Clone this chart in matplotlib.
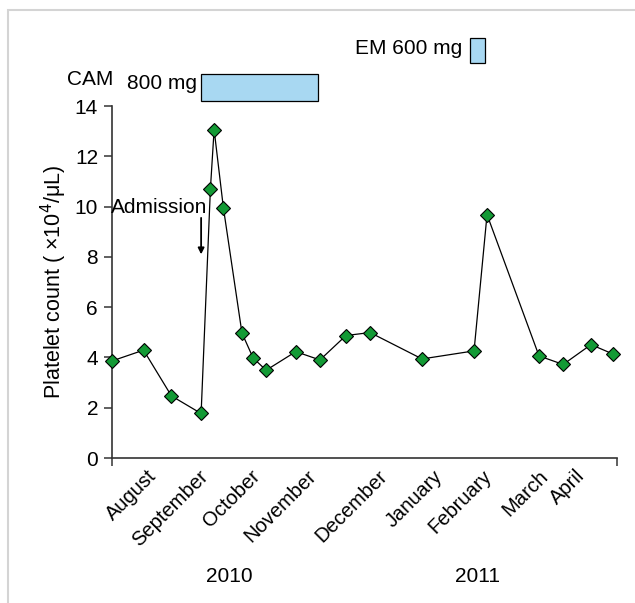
import matplotlib.pyplot as plt
from matplotlib.patches import Rectangle

plt.rcParams['font.family'] = ['Liberation Sans', 'DejaVu Sans']

# days counted from the first measurement (early August 2010)
days = [0, 17, 32, 48, 53, 55, 60, 70, 76, 83, 99, 112, 126, 139,
        167, 195, 202, 230, 243, 258, 270]
platelets = [3.86, 4.29, 2.47, 1.77, 10.7, 13.06, 9.95, 4.97, 3.98, 3.49,
             4.23, 3.9, 4.87, 4.99, 3.94, 4.26, 9.68, 4.06, 3.72, 4.51, 4.13]

months = ['August', 'September', 'October', 'November', 'December',
          'January', 'February', 'March', 'April']
month_pos = [19, 46.5, 74.5, 105, 143, 173, 199.5, 229.5, 249.5]

years = ['2010', '2011']
year_pos = [63, 197]

# drug courses: start day, end day
cam_course = (48, 111)
em_course = (193, 201)
admission_day = 48

fig = plt.figure(figsize=(6.35, 6.03), dpi=100)
fig.patches.append(Rectangle((8 / 635, -0.1), 1.2, 1 - 10 / 603 + 0.1,
                             transform=fig.transFigure, fill=False,
                             edgecolor='#d4d4d4', linewidth=1.5))
ax = fig.add_axes([112 / 635, 1 - 458 / 603, 505 / 635, 352 / 603])

ax.plot(days, platelets, color='black', linewidth=0.9, marker='D',
        markersize=7, markerfacecolor='#139a35', markeredgecolor='black',
        markeredgewidth=0.8, clip_on=False, zorder=3)

ax.set_xlim(0, 272)
ax.set_ylim(0, 14)
ax.set_yticks(range(0, 15, 2))
ax.set_xticks([0, 272], ['', ''])
ax.set_xticks(month_pos, months, minor=True)
ax.tick_params(axis='x', which='minor', length=0, pad=6, labelsize=14.5)
ax.tick_params(axis='x', which='major', length=6, width=1.2, color='#444444')
ax.tick_params(axis='y', length=6, width=1.2, color='#444444', labelsize=15,
               pad=4)
for lbl in ax.get_xticklabels(minor=True):
    lbl.set_rotation(45)
    lbl.set_ha('right')
    lbl.set_rotation_mode('anchor')

for side in ['top', 'right']:
    ax.spines[side].set_visible(False)
for side in ['left', 'bottom']:
    ax.spines[side].set_color('#333333')
    ax.spines[side].set_linewidth(1.2)

ax.set_ylabel('Platelet count ( ×10$^4$/μL)', fontsize=15.5, labelpad=4)

for yr, xp in zip(years, year_pos):
    ax.text(xp, -0.338, yr, transform=ax.get_xaxis_transform(),
            ha='center', va='center', fontsize=15)

# admission marker
ax.annotate('', xy=(admission_day, 8.1), xytext=(admission_day, 9.55),
            arrowprops=dict(arrowstyle='-|>', color='black', lw=1.3,
                            mutation_scale=9, shrinkA=0, shrinkB=0))
ax.text(admission_day + 3.2, 9.97, 'Admission', ha='right', va='center',
        fontsize=15)

# antibiotic courses drawn above the plotting area
ax.add_patch(Rectangle((cam_course[0], 14.21), cam_course[1] - cam_course[0],
                       1.07, facecolor='#a8d8f2', edgecolor='black',
                       linewidth=0.9, clip_on=False))
ax.text(cam_course[0] - 2, 14.9, '800 mg', ha='right', va='center',
        fontsize=15)
ax.text(-24, 15.05, 'CAM', ha='left', va='center', fontsize=15)

ax.add_patch(Rectangle((em_course[0], 15.71), em_course[1] - em_course[0],
                       1.0, facecolor='#a8d8f2', edgecolor='black',
                       linewidth=0.9, clip_on=False))
ax.text(em_course[0] - 4.5, 16.3, 'EM 600 mg', ha='right', va='center',
        fontsize=15)

fig.savefig('out.png', dpi=100)
